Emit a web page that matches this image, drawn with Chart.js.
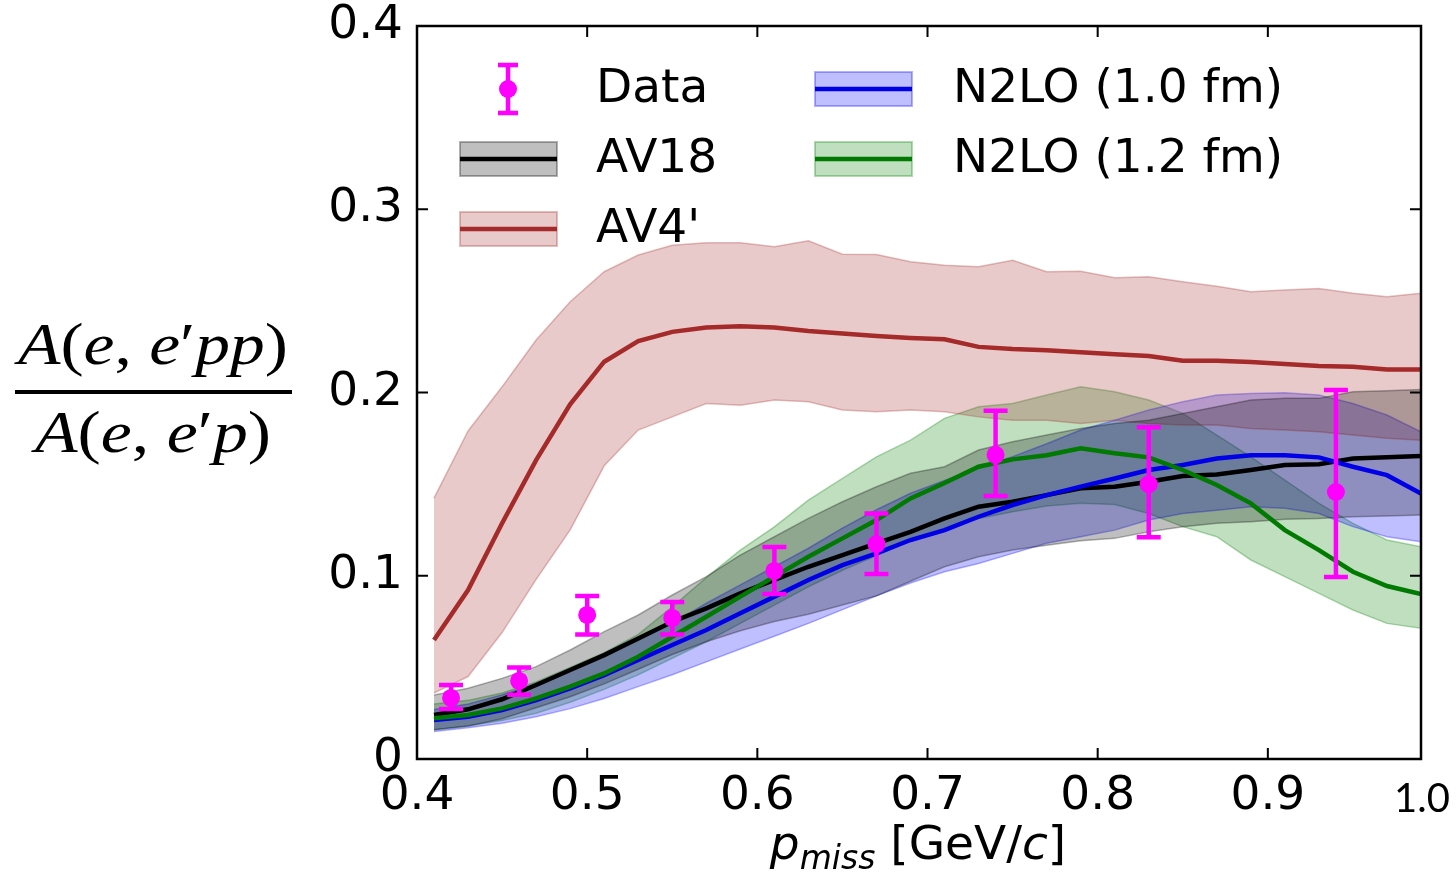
<!DOCTYPE html>
<html lang="en">
<head>
<meta charset="UTF-8">
<title>A(e,e'pp)/A(e,e'p) vs p_miss</title>
<script src="https://cdn.jsdelivr.net/npm/chart.js"></script>
<style>
    body { margin: 0; background: #fff; }
    #wrap { width: 1456px; height: 879px; position: relative; }
</style>
</head>
<body>
<div id="wrap"><canvas id="chart"></canvas></div>
<script>
// model grid (GeV/c)
const pMiss = [0.41, 0.43, 0.45, 0.47, 0.49, 0.51, 0.53, 0.55, 0.57, 0.59,
               0.61, 0.63, 0.65, 0.67, 0.69, 0.71, 0.73, 0.75, 0.77, 0.79,
               0.81, 0.83, 0.85, 0.87, 0.89, 0.91, 0.93, 0.95, 0.97, 0.99];

// AV18
const av18   = [0.0240, 0.0271, 0.0326, 0.0404, 0.0486, 0.0567, 0.0658, 0.0749, 0.0822, 0.0904,
                0.0977, 0.1049, 0.1113, 0.1177, 0.1240, 0.1313, 0.1377, 0.1404, 0.1440, 0.1477,
                0.1486, 0.1513, 0.1544, 0.1553, 0.1577, 0.1604, 0.1608, 0.1640, 0.1646, 0.1653];
const av18Hi = [0.0349, 0.0386, 0.0440, 0.0504, 0.0595, 0.0695, 0.0786, 0.0895, 0.0995, 0.1113,
                0.1213, 0.1313, 0.1404, 0.1486, 0.1559, 0.1595, 0.1686, 0.1731, 0.1768, 0.1804,
                0.1831, 0.1849, 0.1886, 0.1922, 0.1959, 0.1968, 0.1968, 0.2004, 0.2010, 0.2017];
const av18Lo = [0.0160, 0.0180, 0.0220, 0.0280, 0.0340, 0.0410, 0.0490, 0.0570, 0.0640, 0.0700,
                0.0750, 0.0790, 0.0840, 0.0890, 0.0970, 0.1049, 0.1104, 0.1140, 0.1167, 0.1191,
                0.1204, 0.1240, 0.1268, 0.1286, 0.1295, 0.1308, 0.1313, 0.1322, 0.1326, 0.1331];

// AV4'
const av4    = [0.0649, 0.0922, 0.1286, 0.1631, 0.1935, 0.2168, 0.2280, 0.2331, 0.2355, 0.2362,
                0.2355, 0.2335, 0.2322, 0.2308, 0.2298, 0.2290, 0.2249, 0.2237, 0.2231, 0.2220,
                0.2209, 0.2199, 0.2173, 0.2173, 0.2166, 0.2155, 0.2144, 0.2140, 0.2126, 0.2126];
const av4Hi  = [0.1424, 0.1790, 0.2031, 0.2286, 0.2495, 0.2659, 0.2750, 0.2804, 0.2817, 0.2817,
                0.2795, 0.2828, 0.2755, 0.2753, 0.2713, 0.2695, 0.2686, 0.2722, 0.2659, 0.2661,
                0.2626, 0.2631, 0.2604, 0.2580, 0.2550, 0.2559, 0.2568, 0.2541, 0.2522, 0.2541];
const av4Lo  = [0.0360, 0.0450, 0.0690, 0.0980, 0.1250, 0.1600, 0.1795, 0.1867, 0.1940, 0.1931,
                0.1959, 0.1949, 0.1904, 0.1895, 0.1904, 0.1895, 0.1867, 0.1849, 0.1849, 0.1831,
                0.1849, 0.1831, 0.1822, 0.1822, 0.1804, 0.1795, 0.1786, 0.1768, 0.1750, 0.1740];

// N2LO (1.0 fm)
const n2lo10   = [0.0213, 0.0231, 0.0267, 0.0322, 0.0386, 0.0458, 0.0540, 0.0622, 0.0704, 0.0795,
                  0.0886, 0.0977, 0.1058, 0.1122, 0.1195, 0.1249, 0.1322, 0.1386, 0.1440, 0.1486,
                  0.1531, 0.1577, 0.1604, 0.1640, 0.1658, 0.1658, 0.1646, 0.1595, 0.1549, 0.1449];
const n2lo10Hi = [0.0270, 0.0300, 0.0350, 0.0410, 0.0490, 0.0570, 0.0650, 0.0740, 0.0850, 0.0950,
                  0.1050, 0.1150, 0.1260, 0.1360, 0.1450, 0.1520, 0.1590, 0.1650, 0.1720, 0.1795,
                  0.1849, 0.1904, 0.1949, 0.1986, 0.1995, 0.1998, 0.1986, 0.1940, 0.1877, 0.1786];
const n2lo10Lo = [0.0150, 0.0170, 0.0195, 0.0230, 0.0275, 0.0330, 0.0395, 0.0460, 0.0530, 0.0600,
                  0.0670, 0.0740, 0.0815, 0.0890, 0.0960, 0.1022, 0.1067, 0.1122, 0.1177, 0.1213,
                  0.1249, 0.1304, 0.1340, 0.1358, 0.1377, 0.1368, 0.1340, 0.1268, 0.1213, 0.1186];

// N2LO (1.2 fm)
const n2lo12   = [0.0222, 0.0240, 0.0276, 0.0331, 0.0395, 0.0467, 0.0558, 0.0667, 0.0776, 0.0886,
                  0.0995, 0.1104, 0.1204, 0.1304, 0.1422, 0.1506, 0.1595, 0.1635, 0.1658, 0.1695,
                  0.1668, 0.1646, 0.1577, 0.1495, 0.1395, 0.1249, 0.1140, 0.1022, 0.0944, 0.0900];
const n2lo12Hi = [0.0300, 0.0320, 0.0360, 0.0420, 0.0500, 0.0580, 0.0680, 0.0830, 0.0990, 0.1140,
                  0.1267, 0.1413, 0.1531, 0.1649, 0.1740, 0.1859, 0.1922, 0.1940, 0.1986, 0.2031,
                  0.2004, 0.1959, 0.1886, 0.1768, 0.1649, 0.1522, 0.1395, 0.1286, 0.1195, 0.1158];
const n2lo12Lo = [0.0160, 0.0180, 0.0210, 0.0250, 0.0310, 0.0380, 0.0460, 0.0550, 0.0640, 0.0740,
                  0.0840, 0.0940, 0.1030, 0.1110, 0.1190, 0.1249, 0.1313, 0.1349, 0.1380, 0.1395,
                  0.1389, 0.1340, 0.1268, 0.1213, 0.1086, 0.0995, 0.0904, 0.0813, 0.0740, 0.0713];

// measured ratio
const dataX     = [0.42, 0.46, 0.50, 0.55, 0.61, 0.67, 0.74, 0.83, 0.94];
const dataY     = [0.0333, 0.0426, 0.0786, 0.0770, 0.1026, 0.1173, 0.1660, 0.1500, 0.1457];
const dataErrUp = [0.0071, 0.0074, 0.0104, 0.0087, 0.0131, 0.0167, 0.0240, 0.0310, 0.0556];
const dataErrDn = [0.0060, 0.0076, 0.0106, 0.0090, 0.0126, 0.0163, 0.0225, 0.0290, 0.0464];

const xTicks = [0.4, 0.5, 0.6, 0.7, 0.8, 0.9];
const yTicks = [0, 0.1, 0.2, 0.3, 0.4];

const MAGENTA = '#ff00ff';
const TICK_FONT = '47px "DejaVu Sans"';

function pts(ys) {
    return pMiss.map((x, i) => ({ x: x, y: ys[i] }));
}
function rgba(rgb, a) {
    return 'rgba(' + rgb.join(',') + ',' + a + ')';
}
function bandSets(lo, hi, rgb) {
    const common = { pointRadius: 0, borderWidth: 1.5, borderColor: rgba(rgb, 0.3), tension: 0 };
    return [
        Object.assign({ data: pts(hi), fill: false }, common),
        Object.assign({ data: pts(lo), fill: '-1', backgroundColor: rgba(rgb, 0.25) }, common)
    ];
}
function lineSet(ys, color) {
    return { data: pts(ys), borderColor: color, borderWidth: 4.5, pointRadius: 0, fill: false, tension: 0 };
}

const series = [
    { label: 'AV18', rgb: [0, 0, 0], line: '#000000', y: av18, lo: av18Lo, hi: av18Hi },
    { label: "AV4'", rgb: [165, 42, 42], line: '#a52a2a', y: av4, lo: av4Lo, hi: av4Hi },
    { label: 'N2LO (1.0 fm)', rgb: [0, 0, 255], line: '#0000e6', y: n2lo10, lo: n2lo10Lo, hi: n2lo10Hi },
    { label: 'N2LO (1.2 fm)', rgb: [0, 128, 0], line: '#007a00', y: n2lo12, lo: n2lo12Lo, hi: n2lo12Hi }
];

// index 0 is drawn on top in Chart.js, so data first, then lines, then bands
const datasets = [{
    data: dataX.map((x, i) => ({ x: x, y: dataY[i] })),
    showLine: false, pointRadius: 9, pointHoverRadius: 9,
    backgroundColor: MAGENTA, borderColor: MAGENTA, borderWidth: 0
}];
series.slice().reverse().forEach(s => datasets.push(lineSet(s.y, s.line)));
series.forEach(s => bandSets(s.lo, s.hi, s.rgb).forEach(d => datasets.push(d)));

function drawRich(ctx, pieces, x, y, align) {
    let w = 0;
    pieces.forEach(p => { ctx.font = p.font; p.w = ctx.measureText(p.t).width; w += p.w; });
    let cx = align === 'center' ? x - w / 2 : x;
    ctx.textAlign = 'left';
    ctx.textBaseline = 'alphabetic';
    pieces.forEach(p => {
        ctx.font = p.font;
        ctx.fillText(p.t, cx, y + (p.dy || 0));
        cx += p.w;
    });
    return w;
}

function drawFitted(ctx, pieces, cx, y, width) {
    let w = 0;
    pieces.forEach(p => { ctx.font = p.font; w += ctx.measureText(p.t).width; });
    ctx.save();
    ctx.translate(cx, y);
    ctx.scale(width / w, 1);
    drawRich(ctx, pieces, 0, 0, 'center');
    ctx.restore();
}

const errorBars = {
    id: 'errorBars',
    afterDatasetsDraw(chart) {
        const ctx = chart.ctx, xs = chart.scales.x, ys = chart.scales.y;
        ctx.save();
        ctx.strokeStyle = MAGENTA;
        ctx.lineWidth = 4.5;
        dataX.forEach((x, i) => {
            const px = xs.getPixelForValue(x);
            const top = ys.getPixelForValue(dataY[i] + dataErrUp[i]);
            const bot = ys.getPixelForValue(dataY[i] - dataErrDn[i]);
            ctx.beginPath();
            ctx.moveTo(px, top); ctx.lineTo(px, bot);
            ctx.moveTo(px - 12, top); ctx.lineTo(px + 12, top);
            ctx.moveTo(px - 12, bot); ctx.lineTo(px + 12, bot);
            ctx.stroke();
        });
        ctx.restore();
    }
};

const frame = {
    id: 'frame',
    afterDatasetsDraw(chart) {
        const ctx = chart.ctx, a = chart.chartArea, xs = chart.scales.x, ys = chart.scales.y;
        ctx.save();
        ctx.strokeStyle = '#000';
        ctx.lineWidth = 2.5;
        ctx.strokeRect(a.left, a.top, a.right - a.left, a.bottom - a.top);
        ctx.lineWidth = 2;
        ctx.beginPath();
        xTicks.forEach(v => {
            const px = xs.getPixelForValue(v);
            if (px <= a.left + 2) return;
            ctx.moveTo(px, a.bottom); ctx.lineTo(px, a.bottom - 11);
            ctx.moveTo(px, a.top); ctx.lineTo(px, a.top + 11);
        });
        yTicks.forEach(v => {
            const py = ys.getPixelForValue(v);
            if (py >= a.bottom - 2 || py <= a.top + 2) return;
            ctx.moveTo(a.left, py); ctx.lineTo(a.left + 11, py);
            ctx.moveTo(a.right, py); ctx.lineTo(a.right - 11, py);
        });
        ctx.stroke();
        ctx.restore();
    }
};

const labels = {
    id: 'labels',
    afterDraw(chart) {
        const ctx = chart.ctx, a = chart.chartArea;
        ctx.save();
        ctx.fillStyle = '#000';

        // last x label sits at the right corner
        ctx.font = '40px Lato';
        ctx.textAlign = 'center';
        ctx.textBaseline = 'alphabetic';
        ctx.fillText('1.0', a.right + 1, 812);

        // x title: p_miss [GeV/c]
        drawRich(ctx, [
            { t: 'p', font: 'oblique 47px "DejaVu Sans"' },
            { t: 'miss', font: 'oblique 33px "DejaVu Sans"', dy: 10 },
            { t: ' [GeV/', font: '47px "DejaVu Sans"' },
            { t: 'c', font: 'oblique 47px "DejaVu Sans"' },
            { t: ']', font: '47px "DejaVu Sans"' }
        ], 918, 859, 'center');

        // y title: fraction
        const it = 'italic 60px "Liberation Serif"', up = '60px "Liberation Serif"';
        drawFitted(ctx, [
            { t: 'A', font: it }, { t: '(', font: up }, { t: 'e', font: it }, { t: ', ', font: up },
            { t: 'e', font: it }, { t: '\u2032', font: up }, { t: 'pp', font: it }, { t: ')', font: up }
        ], 153, 364, 270);
        drawFitted(ctx, [
            { t: 'A', font: it }, { t: '(', font: up }, { t: 'e', font: it }, { t: ', ', font: up },
            { t: 'e', font: it }, { t: '\u2032', font: up }, { t: 'p', font: it }, { t: ')', font: up }
        ], 153, 452, 236);
        ctx.fillRect(15, 390, 277, 4);

        // legend
        ctx.font = TICK_FONT;
        ctx.textAlign = 'left';
        ctx.textBaseline = 'middle';
        const rows = [89, 159, 229];
        // Data entry
        ctx.strokeStyle = MAGENTA;
        ctx.fillStyle = MAGENTA;
        ctx.lineWidth = 4.5;
        ctx.beginPath();
        ctx.moveTo(508, 65); ctx.lineTo(508, 113);
        ctx.moveTo(498, 65); ctx.lineTo(518, 65);
        ctx.moveTo(498, 113); ctx.lineTo(518, 113);
        ctx.stroke();
        ctx.beginPath();
        ctx.arc(508, rows[0], 9, 0, Math.PI * 2);
        ctx.fill();
        ctx.fillStyle = '#000';
        ctx.fillText('Data', 596, rows[0] + 1);

        const slots = [[460, rows[1]], [460, rows[2]], [815, rows[0]], [815, rows[1]]];
        const textX = [596, 596, 953, 953];
        series.forEach((s, i) => {
            const [hx, hy] = slots[i];
            ctx.fillStyle = rgba(s.rgb, 0.25);
            ctx.fillRect(hx, hy - 17, 97, 34);
            ctx.strokeStyle = rgba(s.rgb, 0.3);
            ctx.lineWidth = 2;
            ctx.strokeRect(hx, hy - 17, 97, 34);
            ctx.strokeStyle = s.line;
            ctx.lineWidth = 4.5;
            ctx.beginPath();
            ctx.moveTo(hx, hy); ctx.lineTo(hx + 97, hy);
            ctx.stroke();
            ctx.fillStyle = '#000';
            ctx.fillText(s.label, textX[i], hy + 1);
        });
        ctx.restore();
    }
};

new Chart(document.getElementById('chart'), {
    type: 'line',
    data: { datasets: datasets },
    options: {
        responsive: true,
        maintainAspectRatio: false,
        animation: false,
        devicePixelRatio: 1,
        layout: { padding: { left: 0, right: 35, top: 26, bottom: 0 } },
        plugins: { legend: { display: false }, tooltip: { enabled: false } },
        scales: {
            x: {
                type: 'linear', min: 0.4, max: 0.99,
                afterBuildTicks: axis => { axis.ticks = xTicks.map(v => ({ value: v })); },
                afterFit: s => { s.height = 120; s.paddingLeft = 0; s.paddingRight = 0; },
                grid: { display: false, drawTicks: false },
                border: { display: false },
                ticks: {
                    color: '#000', padding: 10, maxRotation: 0, autoSkip: false,
                    font: { family: 'DejaVu Sans', size: 47 },
                    callback: v => v.toFixed(1)
                }
            },
            y: {
                min: 0, max: 0.4,
                afterBuildTicks: axis => { axis.ticks = yTicks.map(v => ({ value: v })); },
                afterFit: s => { s.width = 417; s.paddingTop = 0; s.paddingBottom = 0; },
                grid: { display: false, drawTicks: false },
                border: { display: false },
                ticks: {
                    color: '#000', padding: 14,
                    font: { family: 'DejaVu Sans', size: 47 },
                    callback: v => v === 0 ? '0' : v.toFixed(1)
                }
            }
        }
    },
    plugins: [errorBars, frame, labels]
});
</script>
</body>
</html>
